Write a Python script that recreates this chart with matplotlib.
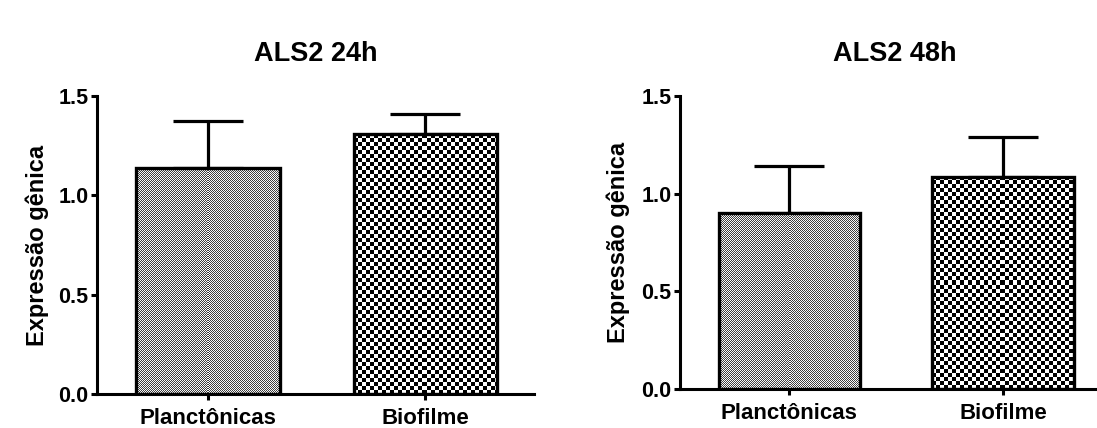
import numpy as np
import matplotlib
matplotlib.use('Agg')
import matplotlib.pyplot as plt

# ---- data ----
categories = ['Planctônicas', 'Biofilme']
titles = ['ALS2 24h', 'ALS2 48h']
means_24h = [1.137, 1.308]
err_24h = [0.237, 0.101]
means_48h = [0.901, 1.086]
err_48h = [0.241, 0.204]
yticks = [0.0, 0.5, 1.0, 1.5]
ytick_labels = ['0.0', '0.5', '1.0', '1.5']
ylabel = 'Expressão gênica'

plt.rcParams['font.family'] = ['Liberation Sans', 'DejaVu Sans']
plt.rcParams['font.weight'] = 'bold'

W, H = 1097, 428
fig = plt.figure(figsize=(W / 100, H / 100), dpi=100)
fig.patch.set_facecolor('white')

# axes positions in pixels: left, bottom(from top), top, width
panels = [
    dict(left=97, top=96, bottom=394, width=437, means=means_24h, errs=err_24h, title=titles[0], lab=-0.137),
    dict(left=680, top=96, bottom=389, width=430, means=means_48h, errs=err_48h, title=titles[1], lab=-0.144),
]

# texture styles per category: (cell px, dark, light)
textures = [(1, (0.25, 0.25, 0.25), (0.98, 0.98, 0.98)),
            (4, (0.0, 0.0, 0.0), (1.0, 1.0, 1.0))]


def checker(h, w, cell, c1, c2):
    yy, xx = np.mgrid[0:h, 0:w]
    m = ((yy // cell + xx // cell) % 2).astype(bool)
    c1 = np.array(c1)
    c2 = np.array(c2)
    return np.where(m[..., None], c1, c2)


x = np.arange(len(categories))
for p in panels:
    ax = fig.add_axes([p['left'] / W, (H - p['bottom']) / H,
                       p['width'] / W, (p['bottom'] - p['top']) / H])
    ax.set_xlim(-0.51, 1.5)
    ax.set_ylim(0, 1.5)
    ax.errorbar(x, p['means'], yerr=[np.zeros(len(x)), p['errs']], fmt='none',
                ecolor='black', elinewidth=2.3, capsize=25, capthick=2.3, zorder=1)
    bars = ax.bar(x, p['means'], width=0.66, facecolor='none', edgecolor='black',
                  linewidth=2.4, zorder=3)
    fig.canvas.draw()
    for b, (cell, c1, c2) in zip(bars, textures):
        x0, x1 = b.get_x(), b.get_x() + b.get_width()
        h = b.get_height()
        (px0, py0) = ax.transData.transform((x0, 0))
        (px1, py1) = ax.transData.transform((x1, h))
        wpx = max(int(round(px1 - px0)), 1)
        hpx = max(int(round(py1 - py0)), 1)
        img = checker(hpx, wpx, cell, c1, c2)
        ax.imshow(img, extent=(x0, x1, 0, h), aspect='auto',
                  interpolation='nearest', zorder=2, origin='upper')
    ax.set_xlim(-0.51, 1.5)
    ax.set_ylim(0, 1.5)
    ax.set_xticks(x)
    ax.set_xticklabels(categories, fontsize=16, fontweight='bold')
    ax.set_yticks(yticks)
    ax.set_yticklabels(ytick_labels, fontsize=15.5, fontweight='bold')
    ax.tick_params(axis='both', direction='out', length=4, width=2.2, color='black')
    ax.tick_params(axis='x', pad=6)
    ax.tick_params(axis='y', pad=2)
    for s in ['top', 'right']:
        ax.spines[s].set_visible(False)
    for s in ['left', 'bottom']:
        ax.spines[s].set_linewidth(2.2)
    ax.set_ylabel(ylabel, fontsize=17, fontweight='bold', va='center')
    ax.yaxis.set_label_coords(p['lab'], 0.5)
    ax.set_title(p['title'], fontsize=19.5, fontweight='bold', pad=25)
    ax.set_facecolor('none')

fig.savefig('out.png', dpi=100)
